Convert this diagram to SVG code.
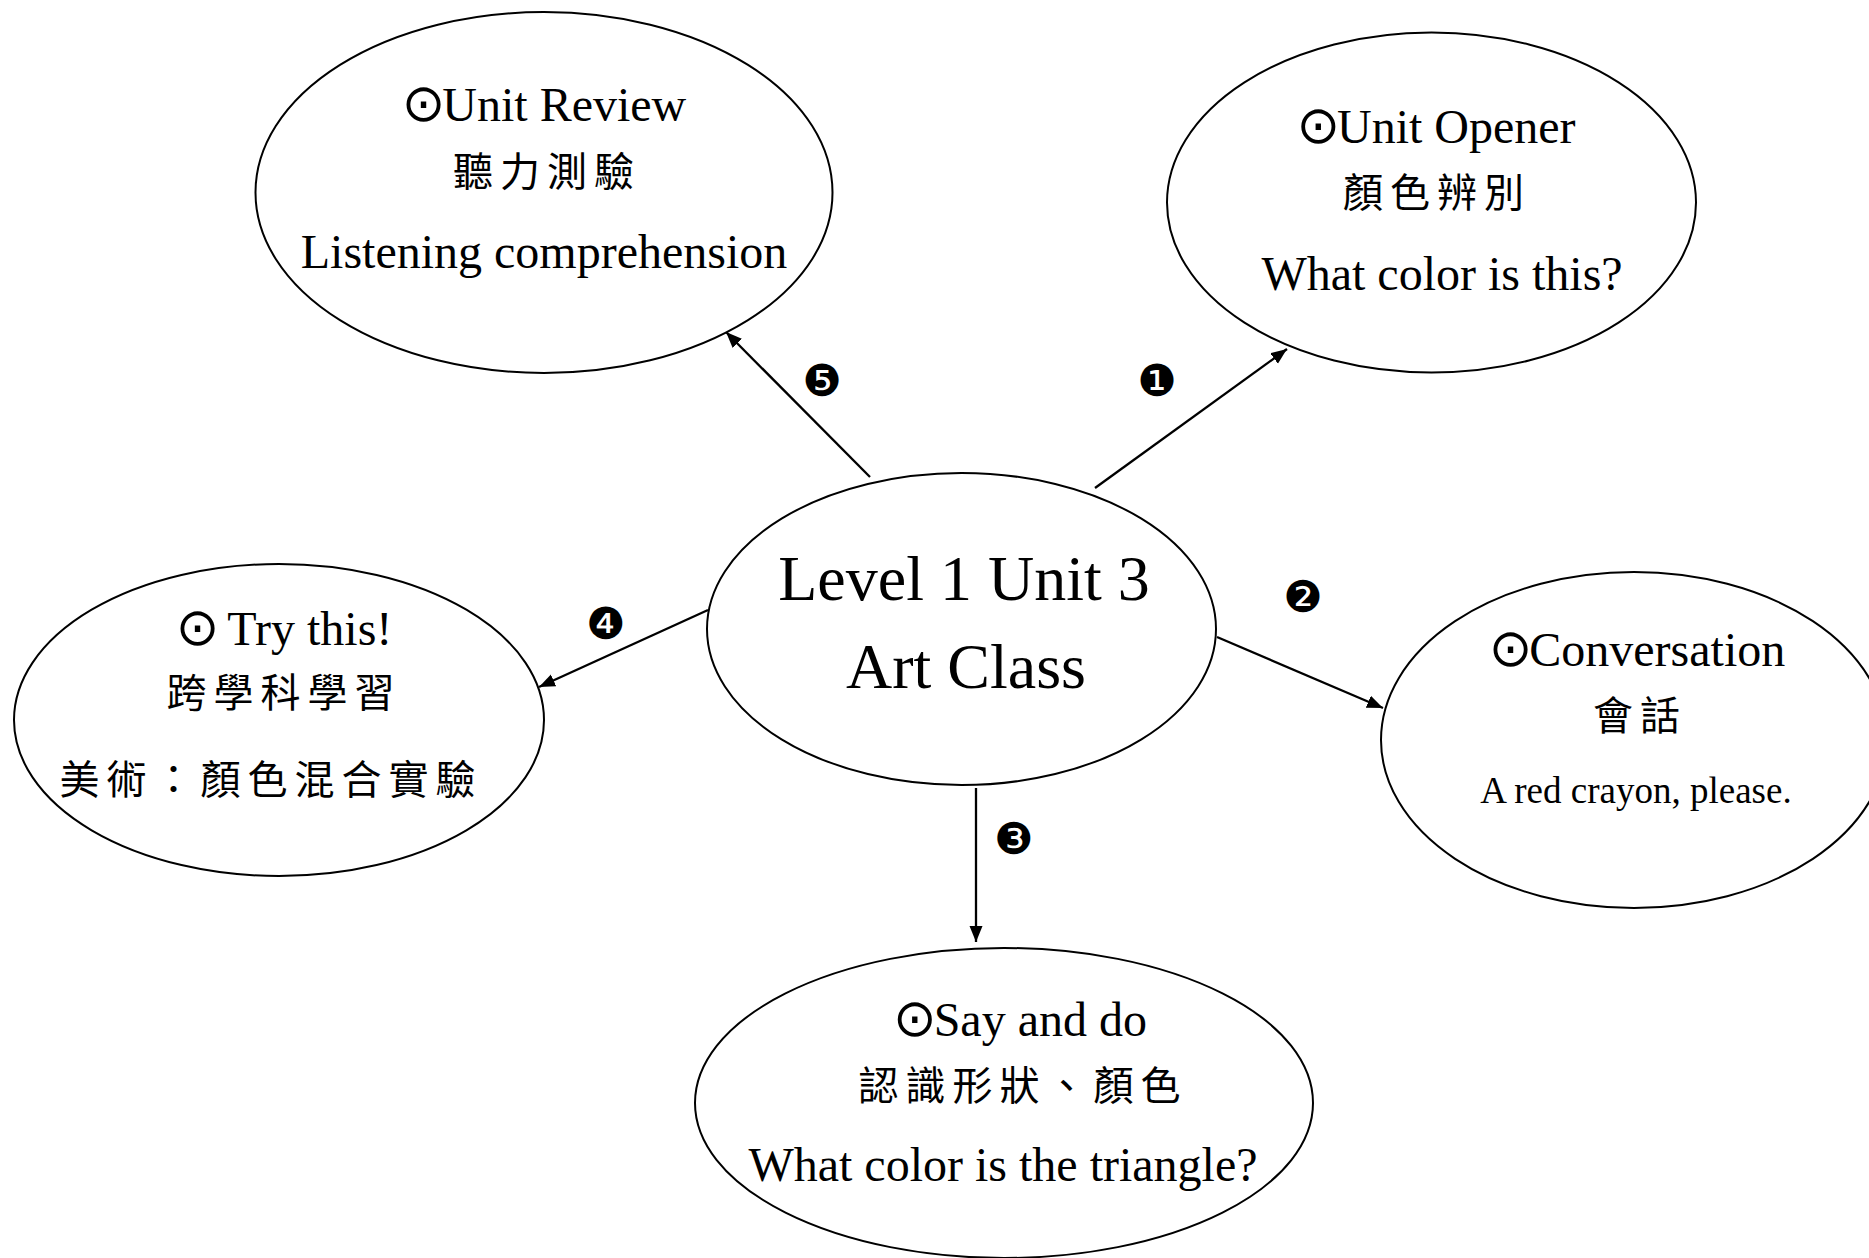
<svg xmlns="http://www.w3.org/2000/svg" width="1869" height="1258" viewBox="0 0 1869 1258">
<style>
.node{fill:#fff;stroke:#000;stroke-width:2}
.en{font-family:"Liberation Serif","Times New Roman",serif;font-size:48px;fill:#000;text-anchor:middle}
.en2{font-family:"Liberation Serif","Times New Roman",serif;font-size:37px;fill:#000;text-anchor:middle}
.big{font-family:"Liberation Serif","Times New Roman",serif;font-size:64px;fill:#000;text-anchor:middle}
.zh{font-family:"Noto Sans CJK TC","Noto Sans CJK SC",sans-serif;font-size:40px;letter-spacing:7px;fill:#000;text-anchor:middle}
.dot{font-family:"DejaVu Sans",sans-serif;font-size:52px;letter-spacing:-3px}
.num{font-family:"DejaVu Sans",sans-serif;font-size:44px;fill:#000;text-anchor:middle}
.conn{stroke:#000;stroke-width:2.3;fill:none;marker-end:url(#arr)}
</style>
<defs>
<marker id="arr" markerUnits="userSpaceOnUse" markerWidth="18" markerHeight="14" refX="16" refY="6.5" orient="auto">
<path d="M0,0 L16,6.5 L0,13 z" fill="#000"/>
</marker>
</defs>
<rect width="1869" height="1258" fill="#fff"/>

<g id="connectors">
<line class="conn" x1="1095" y1="488" x2="1287" y2="349"/>
<line class="conn" x1="1217" y1="637" x2="1383" y2="708"/>
<line class="conn" x1="976" y1="788" x2="976" y2="942"/>
<line class="conn" x1="708" y1="610" x2="539" y2="687"/>
<line class="conn" x1="870" y1="477" x2="726" y2="332"/>
<text class="num" x="1157" y="396">❶</text>
<text class="num" x="1303" y="612">❷</text>
<text class="num" x="1014" y="854">❸</text>
<text class="num" x="606" y="639">❹</text>
<text class="num" x="822" y="396">❺</text>
</g>

<g id="center">
<ellipse class="node" cx="961.5" cy="629" rx="254.5" ry="156"/>
<text class="big" x="964" y="600">Level 1 Unit 3</text>
<text class="big" x="966" y="688">Art Class</text>
</g>

<g id="unit-review">
<ellipse class="node" cx="544" cy="192.5" rx="288.5" ry="180.5"/>
<text class="en" x="544" y="121"><tspan class="dot">⊙</tspan>Unit Review</text>
<text class="zh" x="547" y="186">聽力測驗</text>
<text class="en" x="544" y="268">Listening comprehension</text>
</g>

<g id="unit-opener">
<ellipse class="node" cx="1431.5" cy="202.5" rx="264.5" ry="170"/>
<text class="en" x="1436" y="143"><tspan class="dot">⊙</tspan>Unit Opener</text>
<text class="zh" x="1437" y="207">顏色辨別</text>
<text class="en" x="1442" y="290">What color is this?</text>
</g>

<g id="try-this">
<ellipse class="node" cx="279" cy="720" rx="265" ry="156"/>
<text class="en" x="284" y="645"><tspan class="dot">⊙</tspan><tspan> Try this!</tspan></text>
<text class="zh" x="284" y="707">跨學科學習</text>
<text class="zh" x="271" y="794">美術：顏色混合實驗</text>
</g>

<g id="conversation">
<ellipse class="node" cx="1634" cy="740" rx="253" ry="168"/>
<text class="en" x="1637" y="666"><tspan class="dot">⊙</tspan>Conversation</text>
<text class="zh" x="1640" y="730">會話</text>
<text class="en2" x="1636" y="803">A red crayon, please.</text>
</g>

<g id="say-and-do">
<ellipse class="node" cx="1004" cy="1103" rx="309" ry="155"/>
<text class="en" x="1020" y="1036"><tspan class="dot">⊙</tspan>Say and do</text>
<text class="zh" x="1023" y="1100">認識形狀、顏色</text>
<text class="en" x="1003" y="1181">What color is the triangle?</text>
</g>
</svg>
